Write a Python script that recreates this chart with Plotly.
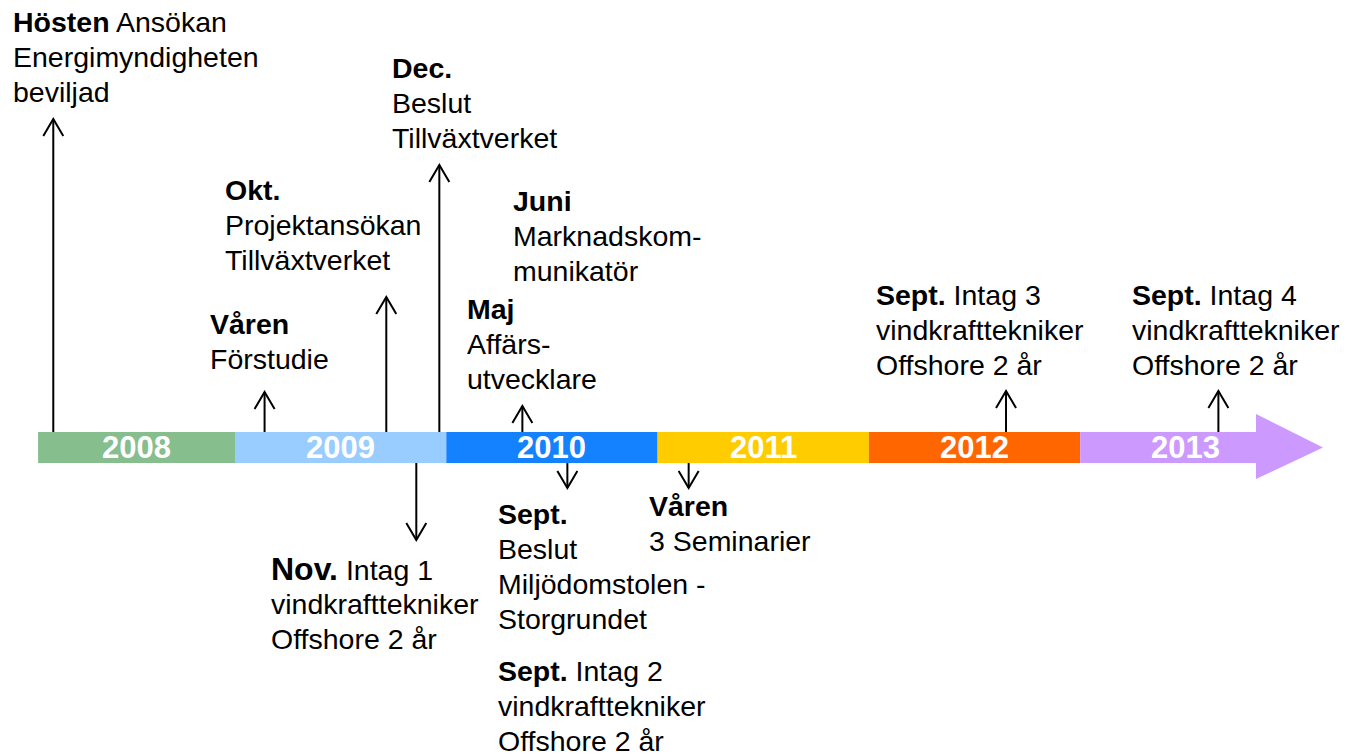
import plotly.graph_objects as go

# ---------------- data ----------------
years = [2008, 2009, 2010, 2011, 2012, 2013]
year_labels = ["2008", "2009", "2010", "2011", "2012", "2013"]
year_colors = ["#86BE8E", "#99CCFF", "#1482FF", "#FFCC00", "#FF6600", "#CC99FF"]

# events (date as fractional year, label lines, side of the timeline)
event_dates = [2008.14, 2009.14, 2009.716, 2009.858, 2009.967, 2010.36,
               2010.45, 2010.573, 2010.573, 2011.147, 2012.649, 2013.654]
event_labels = [
    ["<b>Hösten</b> Ansökan", "Energimyndigheten", "beviljad"],
    ["<b>Våren</b>", "Förstudie"],
    ["<b>Okt.</b>", "Projektansökan", "Tillväxtverket"],
    ["<span style='font-size:32px'><b>Nov.</b></span> Intag 1", "vindkrafttekniker", "Offshore 2 år"],
    ["<b>Dec.</b>", "Beslut", "Tillväxtverket"],
    ["<b>Maj</b>", "Affärs-", "utvecklare"],
    ["<b>Juni</b>", "Marknadskom-", "munikatör"],
    ["<b>Sept.</b>", "Beslut", "Miljödomstolen -", "Storgrundet"],
    ["<b>Sept.</b> Intag 2", "vindkrafttekniker", "Offshore 2 år"],
    ["<b>Våren</b>", "3 Seminarier"],
    ["<b>Sept.</b> Intag 3", "vindkrafttekniker", "Offshore 2 år"],
    ["<b>Sept.</b> Intag 4", "vindkrafttekniker", "Offshore 2 år"],
]
event_side = ["up", "up", "up", "down", "up", "up",
              None, "down", None, "down", "up", "up"]

# ---------------- layout (pixels) ----------------
W, H = 1348, 756
PX_PER_YEAR = 211.3
PX_2009 = 235
BAR_TOP, BAR_BOT = 432, 463
BAR_START = 2008.068
BAR_END = 2013.832
ARROW_TIP = 2014.149
HEAD_TOP, HEAD_BOT = 414, 479

arrow_tip_px = [119, 392, 297, 540, 165, 406, None, 488, None, 488, 391, 391]
label_x_px = [12, 209, 224, 270, 391, 466, 512, 497, 497, 648, 875, 1131]
label_y1_px = [22, 324, 190, 569, 68, 309, 201, 514, 671, 506, 295, 295]
LINE_PX = 35

FONT = "Liberation Sans, Arial, sans-serif"
FS = 28.5


def px_to_year(px):
    return 2009 + (px - PX_2009) / PX_PER_YEAR


fig = go.Figure()

# ---- arrows ----
dx = 10 / PX_PER_YEAR
ax, ay = [], []
for d, side, tip in zip(event_dates, event_side, arrow_tip_px):
    if side is None or tip is None:
        continue
    if side == "up":
        base, hy = BAR_TOP, tip + 17
    else:
        base, hy = BAR_BOT, tip - 17
    ax += [d, d, None, d - dx, d, d + dx, None]
    ay += [base, tip, None, hy, tip, hy, None]
fig.add_trace(go.Scatter(x=ax, y=ay, mode="lines",
                         line=dict(color="black", width=2),
                         hoverinfo="skip", showlegend=False))

# ---- timeline bar ----
shapes = []
annotations = []
for i, (yv, lab, col) in enumerate(zip(years, year_labels, year_colors)):
    x0 = max(yv, BAR_START)
    if i < len(years) - 1:
        x1 = yv + 1
        shapes.append(dict(type="rect", xref="x", yref="y", x0=x0, x1=x1,
                           y0=BAR_TOP, y1=BAR_BOT, fillcolor=col,
                           line=dict(width=0), layer="above"))
        cx = (x0 + x1) / 2
    else:
        mid = (BAR_TOP + BAR_BOT) / 2
        path = (f"M{x0},{BAR_TOP} L{BAR_END},{BAR_TOP} L{BAR_END},{HEAD_TOP} "
                f"L{ARROW_TIP},{mid} L{BAR_END},{HEAD_BOT} L{BAR_END},{BAR_BOT} "
                f"L{x0},{BAR_BOT} Z")
        shapes.append(dict(type="path", xref="x", yref="y", path=path,
                           fillcolor=col, line=dict(width=0), layer="above"))
        cx = yv + 0.5
    annotations.append(dict(x=cx, y=(BAR_TOP + BAR_BOT) / 2, xref="x", yref="y",
                            text=f"<b>{lab}</b>", showarrow=False,
                            xanchor="center", yanchor="middle",
                            font=dict(family=FONT, size=31, color="white")))

# ---- event labels (one annotation per line for exact line spacing) ----
for lines, lx, ly in zip(event_labels, label_x_px, label_y1_px):
    for k, line in enumerate(lines):
        yy = ly + k * LINE_PX
        annotations.append(dict(x=lx / W, y=1 - yy / H, xref="paper", yref="paper",
                                text=line, showarrow=False, align="left",
                                xanchor="left", yanchor="middle", borderpad=0,
                                font=dict(family=FONT, size=FS, color="black")))

fig.update_layout(
    width=W, height=H,
    margin=dict(l=0, r=0, t=0, b=0),
    paper_bgcolor="white", plot_bgcolor="white",
    xaxis=dict(range=[px_to_year(0), px_to_year(W)], visible=False, fixedrange=True),
    yaxis=dict(range=[H, 0], visible=False, fixedrange=True),
    shapes=shapes, annotations=annotations, showlegend=False,
)

fig.write_html("out.html",
               config={"displayModeBar": False},
               post_script="document.body.style.margin='0';document.body.style.overflow='hidden';")
